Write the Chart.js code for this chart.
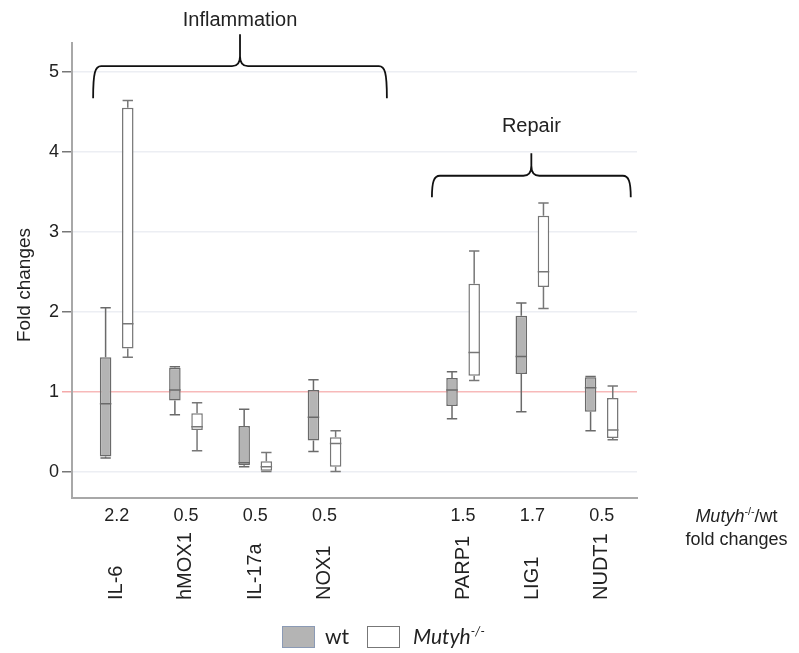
<!DOCTYPE html>
<html>
<head>
<meta charset="utf-8">
<script src="https://cdn.jsdelivr.net/npm/chart.js@4.4.1/dist/chart.umd.min.js"></script>
<style>
  body { margin: 0; background: #fff; }
  #wrap { position: relative; width: 799px; height: 653px; font-family: "Liberation Sans", Arial, sans-serif; color: #222; }
  canvas { position: absolute; left: 0; top: 0; }
  .side { position: absolute; left: 674px; top: 505px; width: 125px; text-align: center; font-size: 18px; line-height: 23px; }
  .side sup, .lg sup { font-size: 60%; line-height: 0; }
  .box { position: absolute; top: 626px; width: 33px; height: 22px; box-sizing: border-box; }
  .lg { position: absolute; top: 622px; font-family: Lato, sans-serif; font-size: 21px; line-height: 28px; }
</style>
</head>
<body>
<div id="wrap">
  <canvas id="boxChart" width="799" height="653"></canvas>
  <div class="side"><i>Mutyh</i><sup>-/-</sup>/wt<br>fold changes</div>
  <div class="box" style="left:282px;background:#b4b4b4;border:1px solid #8b9ab5;"></div>
  <div class="lg" style="left:325px;">wt</div>
  <div class="box" style="left:367px;background:#fff;border:1px solid #777;"></div>
  <div class="lg" style="left:413px;"><i>Mutyh</i><sup><i>-/-</i></sup></div>
</div>
<script>
const genes = ['IL-6', 'hMOX1', 'IL-17a', 'NOX1', 'PARP1', 'LIG1', 'NUDT1'];
const genePos = [0, 1, 2, 3, 5, 6, 7];
const foldChange = ['2.2', '0.5', '0.5', '0.5', '1.5', '1.7', '0.5'];
const yTicks = [0, 1, 2, 3, 4, 5];

const wtMin = [0.17, 0.71, 0.06, 0.25, 0.66, 0.75, 0.51];
const wtQ1  = [0.19, 0.89, 0.08, 0.39, 0.82, 1.22, 0.75];
const wtMed = [0.85, 1.02, 0.11, 0.68, 1.02, 1.44, 1.05];
const wtQ3  = [1.43, 1.30, 0.57, 1.02, 1.17, 1.95, 1.18];
const wtMax = [2.05, 1.31, 0.78, 1.15, 1.25, 2.11, 1.19];

const mutMin = [1.43, 0.26, 0.00, 0.00, 1.14, 2.04, 0.40];
const mutQ1  = [1.54, 0.52, 0.01, 0.06, 1.20, 2.31, 0.42];
const mutMed = [1.85, 0.56, 0.06, 0.35, 1.49, 2.50, 0.52];
const mutQ3  = [4.55, 0.73, 0.13, 0.43, 2.35, 3.20, 0.92];
const mutMax = [4.64, 0.86, 0.24, 0.51, 2.76, 3.36, 1.07];

// brace annotations, in axis units
const braces = [
    { text: 'Inflammation', from: -0.34, to: 3.9, line: 5.07, end: 4.67, tip: 5.47, label: 5.645 },
    { text: 'Repair', from: 4.55, to: 7.42, line: 3.70, end: 3.43, tip: 3.98, label: 4.31 }
];

const boxes = (q1, q3) => genePos.map((p, i) => ({ x: p, y: [q1[i], q3[i]] }));

const boxPlugin = {
    id: 'boxParts',
    afterDatasetsDraw(chart) {
        const ctx = chart.ctx;
        const y = chart.scales.y;
        chart.data.datasets.forEach((ds, d) => {
            const meta = chart.getDatasetMeta(d);
            ctx.save();
            ctx.strokeStyle = ds.borderColor;
            ctx.lineWidth = 1.5;
            meta.data.forEach((bar, i) => {
                const { x, width } = bar.getProps(['x', 'width'], true);
                const cap = width * 0.45;
                const pMin = y.getPixelForValue(ds.stats.min[i]);
                const pMax = y.getPixelForValue(ds.stats.max[i]);
                const pQ1 = y.getPixelForValue(ds.data[i].y[0]);
                const pQ3 = y.getPixelForValue(ds.data[i].y[1]);
                const pMed = y.getPixelForValue(ds.stats.med[i]);
                ctx.beginPath();
                ctx.moveTo(x, pQ3); ctx.lineTo(x, pMax);
                ctx.moveTo(x - cap, pMax); ctx.lineTo(x + cap, pMax);
                ctx.moveTo(x, pQ1); ctx.lineTo(x, pMin);
                ctx.moveTo(x - cap, pMin); ctx.lineTo(x + cap, pMin);
                ctx.moveTo(x - width / 2, pMed); ctx.lineTo(x + width / 2, pMed);
                ctx.stroke();
            });
            ctx.restore();
        });
    },
    afterDraw(chart) {
        const ctx = chart.ctx;
        const xs = chart.scales.x, ys = chart.scales.y;
        ctx.save();
        ctx.fillStyle = '#222';

        // gene names, rotated, under the fold change row
        ctx.font = '20px "Liberation Sans", Arial, sans-serif';
        ctx.textAlign = 'left';
        ctx.textBaseline = 'middle';
        genes.forEach((g, i) => {
            ctx.save();
            ctx.translate(xs.getPixelForValue(genePos[i]), 600);
            ctx.rotate(-Math.PI / 2);
            ctx.fillText(g, 0, 0);
            ctx.restore();
        });

        // y axis title
        ctx.save();
        ctx.font = '19px "Liberation Sans", Arial, sans-serif';
        ctx.textAlign = 'center';
        ctx.translate(25, 285);
        ctx.rotate(-Math.PI / 2);
        ctx.fillText('Fold changes', 0, 0);
        ctx.restore();

        // braces
        ctx.strokeStyle = '#111';
        ctx.lineWidth = 1.8;
        ctx.font = '20px "Liberation Sans", Arial, sans-serif';
        ctx.textAlign = 'center';
        braces.forEach(b => {
            const x0 = xs.getPixelForValue(b.from), x1 = xs.getPixelForValue(b.to);
            const xm = (x0 + x1) / 2;
            const yl = ys.getPixelForValue(b.line), ye = ys.getPixelForValue(b.end), yt = ys.getPixelForValue(b.tip);
            ctx.beginPath();
            ctx.moveTo(x0, ye);
            ctx.bezierCurveTo(x0, yl + 6, x0 + 2, yl, x0 + 8, yl);
            ctx.lineTo(xm - 8, yl);
            ctx.bezierCurveTo(xm - 2, yl, xm, yl - 4, xm, yl - 10);
            ctx.lineTo(xm, yt);
            ctx.moveTo(xm, yl - 10);
            ctx.bezierCurveTo(xm, yl - 4, xm + 2, yl, xm + 8, yl);
            ctx.lineTo(x1 - 8, yl);
            ctx.bezierCurveTo(x1 - 2, yl, x1, yl + 6, x1, ye);
            ctx.stroke();
            ctx.fillText(b.text, xm, ys.getPixelForValue(b.label));
        });
        ctx.restore();
    }
};

const ctxBox = document.getElementById('boxChart').getContext('2d');
Chart.defaults.font.family = '"Liberation Sans", Arial, sans-serif';
Chart.defaults.color = '#222';

new Chart(ctxBox, {
    type: 'bar',
    data: {
        datasets: [{
            label: 'wt',
            data: boxes(wtQ1, wtQ3),
            stats: { min: wtMin, med: wtMed, max: wtMax },
            backgroundColor: '#b4b4b4',
            borderColor: '#6a6a6a',
            borderWidth: 1.5,
            borderSkipped: false
        }, {
            label: 'Mutyh-/-',
            data: boxes(mutQ1, mutQ3),
            stats: { min: mutMin, med: mutMed, max: mutMax },
            backgroundColor: '#ffffff',
            borderColor: '#777777',
            borderWidth: 1.5,
            borderSkipped: false
        }]
    },
    options: {
        responsive: false,
        animation: false,
        layout: { padding: { top: 43, right: 162, bottom: 0, left: 0 } },
        categoryPercentage: 0.64,
        barPercentage: 0.52,
        plugins: {
            legend: { display: false },
            tooltip: { enabled: false }
        },
        scales: {
            x: {
                type: 'linear',
                min: -0.645,
                max: 7.51,
                offset: false,
                afterBuildTicks: s => { s.ticks = genePos.map(v => ({ value: v })); },
                afterFit: s => { s.height = 155; },
                ticks: {
                    callback: (v, i) => foldChange[i],
                    font: { size: 18 },
                    color: '#222',
                    padding: 7,
                    maxRotation: 0,
                    autoSkip: false
                },
                grid: { display: false, drawTicks: false, offset: false },
                border: { color: '#a8a8a8', width: 2 }
            },
            y: {
                min: -0.33,
                max: 5.36,
                afterBuildTicks: s => { s.ticks = yTicks.map(v => ({ value: v })); },
                afterFit: s => { s.width = 72; },
                ticks: {
                    font: { size: 18 },
                    color: '#222',
                    padding: 3
                },
                grid: {
                    color: c => c.tick && c.tick.value === 1 ? '#f7b9b9' : '#eceef3',
                    tickColor: c => c.tick && c.tick.value === 1 ? '#f4a9a9' : '#777',
                    lineWidth: 1.5,
                    tickLength: 10,
                    tickWidth: 1.5
                },
                border: { color: '#a8a8a8', width: 2 }
            }
        }
    },
    plugins: [boxPlugin]
});
</script>
</body>
</html>
